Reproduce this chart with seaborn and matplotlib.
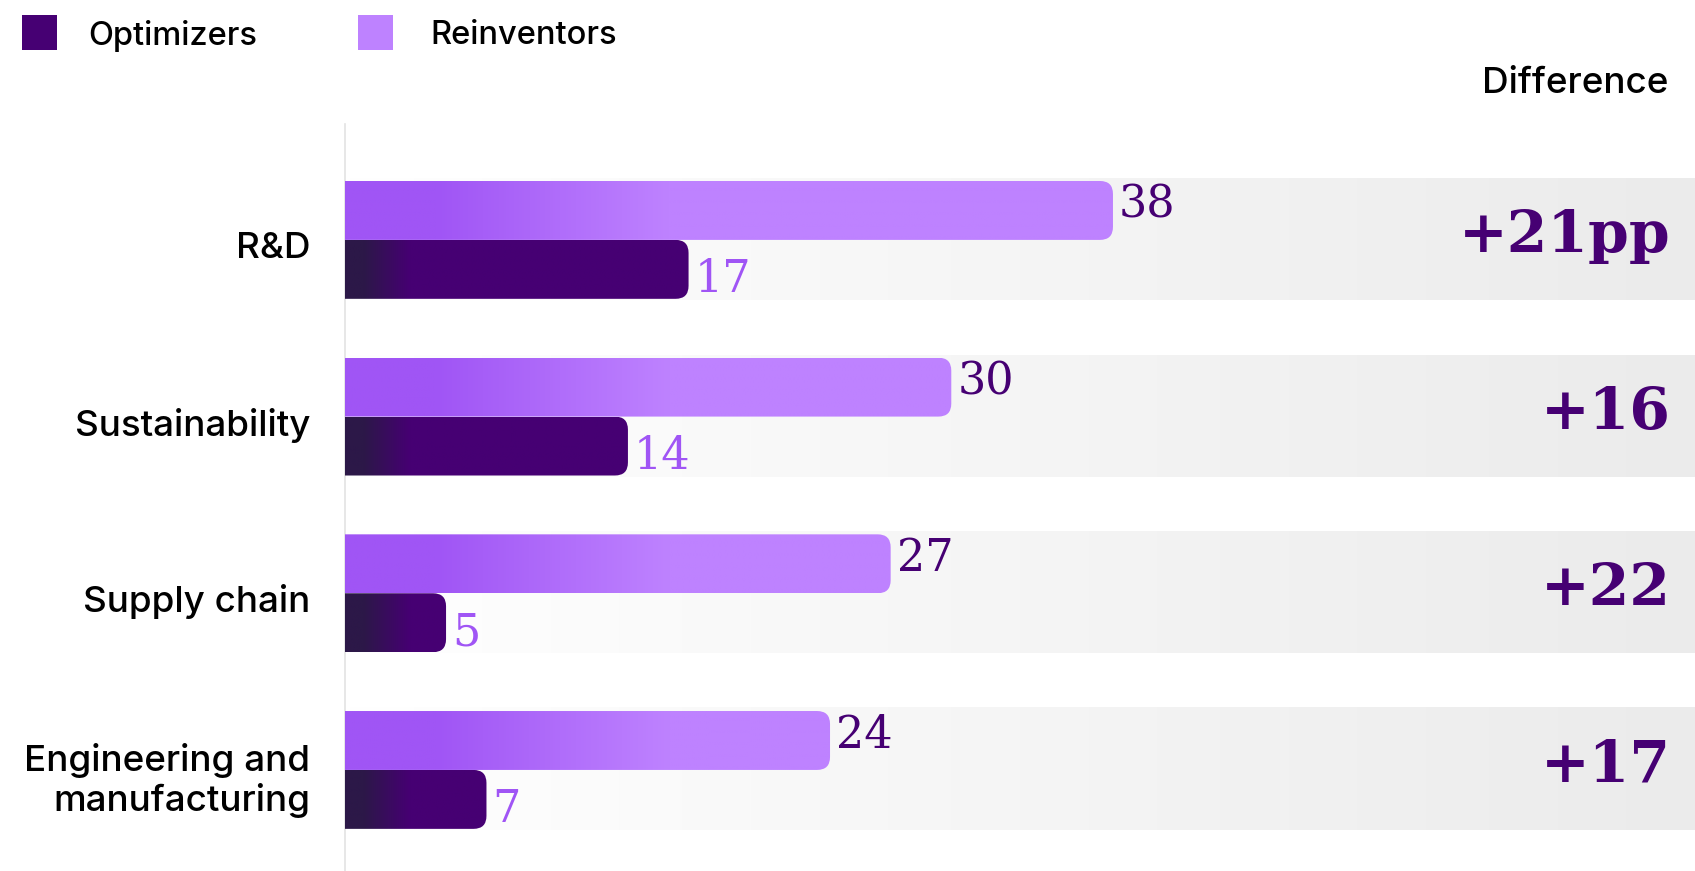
import numpy as np
import pandas as pd
import seaborn as sns
import matplotlib.pyplot as plt
from matplotlib.patches import FancyBboxPatch, Rectangle
from matplotlib.colors import LinearSegmentedColormap, to_rgb
from matplotlib import transforms

sns.set_theme(style="white")
plt.rcParams['font.family'] = ['Inter', 'DejaVu Sans']

# data
categories = ["R&D", "Sustainability", "Supply chain", "Engineering and\nmanufacturing"]
groups = ["Reinventors", "Optimizers"]
reinventors = [38, 30, 27, 24]
optimizers = [17, 14, 5, 7]

df = pd.DataFrame({
    "category": categories * 2,
    "group": ["Reinventors"] * len(categories) + ["Optimizers"] * len(categories),
    "value": reinventors + optimizers,
})

DARK = "#460073"
LIGHT = "#be82ff"
MID = "#a055f5"
OPT_START = "#2c1848"
SERIF = "DejaVu Serif"

W, H = 1695, 871
fig = plt.figure(figsize=(W / 100, H / 100), dpi=100)
ax = fig.add_axes([345 / W, 0, 1 - 345 / W, 1 - 124 / H])

sns.barplot(data=df, y="category", x="value", hue="group", hue_order=groups,
            order=categories, orient="h", width=0.667, errorbar=None,
            legend=False, ax=ax)

xmax = 66.8
ax.set_xlim(0, xmax)
ax.set_ylim(3.572, -0.656)

# pixel scale of the data units, used for round corners
p0 = ax.transData.transform((0, 0))
px_x = ax.transData.transform((1, 0))[0] - p0[0]
px_y = abs(ax.transData.transform((0, 1))[1] - p0[1])
r = 13 / px_x
aspect = px_x / px_y


def blend(c0, c1, xs, a, b):
    t = np.clip((xs - a) / (b - a), 0, 1)[:, None]
    return np.array(to_rgb(c0)) * (1 - t) + np.array(to_rgb(c1)) * t


grad = {
    "Reinventors": (MID, LIGHT, 4.5, 16.0),
    "Optimizers": (OPT_START, DARK, 0.9, 3.2),
}

# grey bands behind each pair of bars
band_cmap = LinearSegmentedColormap.from_list("band", ["#ffffff", "#ebebeb"])
for i in range(len(categories)):
    ax.imshow(np.linspace(0, 1, 256)[None, :], cmap=band_cmap, aspect="auto",
              extent=(0, xmax, i + 60 / px_y, i - 62 / px_y), zorder=0)

for container, group in zip(ax.containers, groups):
    c0, c1, a, b = grad[group]
    for bar in container:
        w = bar.get_width()
        y0, h = bar.get_y(), bar.get_height()
        bar.set_visible(False)
        shape = FancyBboxPatch((-2 * r, y0), w + 2 * r, h,
                               boxstyle=f"round,pad=0,rounding_size={r}",
                               mutation_aspect=aspect, facecolor="none",
                               edgecolor="none", transform=ax.transData)
        ax.add_patch(shape)
        xs = np.linspace(0, w, 300)
        im = ax.imshow(blend(c0, c1, xs, a, b)[None, :, :], aspect="auto",
                       extent=(0, w, y0 + h, y0), zorder=3,
                       interpolation="bilinear")
        im.set_clip_path(shape)

# value labels and differences
blend_tr = transforms.blended_transform_factory(ax.transAxes, ax.transData)
for i, cat in enumerate(categories):
    ax.text(reinventors[i], i, str(reinventors[i]), transform=transforms.offset_copy(
        ax.transData, fig, x=6, y=22, units="dots"), ha="left", va="baseline",
        fontsize=32, family=SERIF, color=DARK, zorder=5)
    ax.text(optimizers[i], i, str(optimizers[i]), transform=transforms.offset_copy(
        ax.transData, fig, x=6, y=-52, units="dots"), ha="left", va="baseline",
        fontsize=32, family=SERIF, color=MID, zorder=5)
    diff = reinventors[i] - optimizers[i]
    label = f"+{diff}pp" if i == 0 else f"+{diff}"
    ax.text(0.982, i, label, transform=transforms.offset_copy(
        blend_tr, fig, x=0, y=-12, units="dots"), ha="right", va="baseline",
        fontsize=42, family=SERIF, fontweight="bold", color=DARK, zorder=5)

ax.set_xlim(0, xmax)
ax.set_ylim(3.572, -0.656)
ax.set_xlabel("")
ax.set_ylabel("")
ax.set_xticks([])
ax.set_yticks(range(len(categories)))
ax.set_yticklabels(categories, fontsize=26.5, color="black", linespacing=1.15,
                   fontweight="medium")
ax.tick_params(axis="y", length=0, pad=25)
for lab in ax.get_yticklabels():
    lab.set_transform(lab.get_transform() + transforms.ScaledTranslation(0, -5 / 100, fig.dpi_scale_trans))
for s in ["top", "right", "bottom"]:
    ax.spines[s].set_visible(False)
ax.spines["left"].set_color("#e3e3e3")
ax.spines["left"].set_linewidth(1.2)
ax.set_facecolor("none")

# legend (drawn by hand so the squares sit where they do in the original)
for x_sq, x_txt, col, name in [(22, 88, DARK, "Optimizers"), (358, 430, LIGHT, "Reinventors")]:
    fig.add_artist(Rectangle((x_sq / W, 1 - 50 / H), 35 / W, 35 / H,
                             transform=fig.transFigure, facecolor=col, edgecolor="none"))
    fig.text(x_txt / W, 1 - 32 / H, name, ha="left", va="center_baseline",
             fontsize=23.5, fontweight="medium", color="black")

fig.text(1668 / W, 1 - 93 / H, "Difference", ha="right", va="baseline",
         fontsize=26.5, fontweight="medium", color="black")

fig.savefig("out.png", dpi=100)
